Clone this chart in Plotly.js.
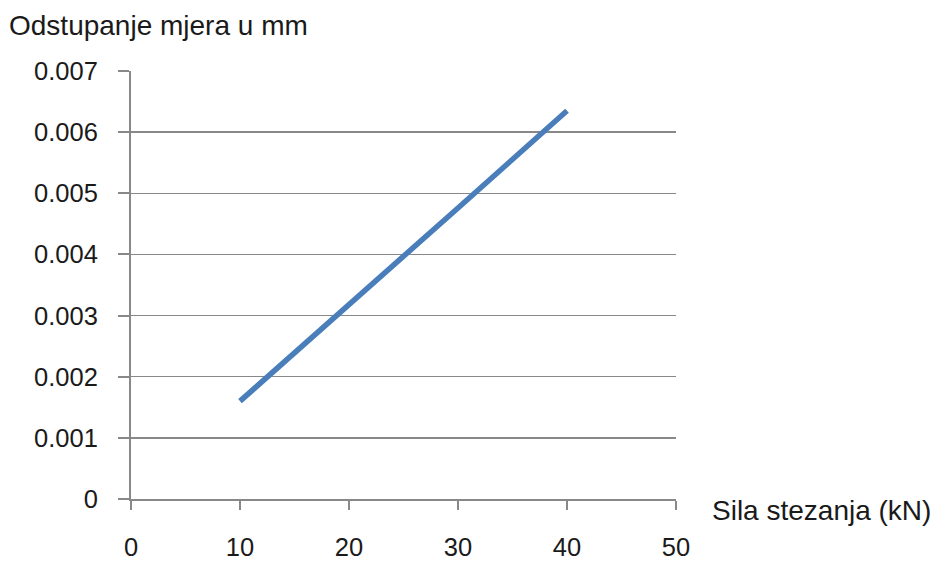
<!DOCTYPE html>
<html>
<head>
<meta charset="utf-8">
<script src="https://cdn.plot.ly/plotly-3.0.1.min.js"></script>
<style>html,body{margin:0;padding:0;background:#fff;}#chart{width:937px;height:563px;}</style>
</head>
<body>
<div id="chart"></div>
<script>
const force = [10, 20, 30, 40];
const deviation = [0.0016, 0.00317, 0.00476, 0.00635];
const xTicks = [0, 10, 20, 30, 40, 50];
const yTicks = [0, 0.001, 0.002, 0.003, 0.004, 0.005, 0.006, 0.007];
const yTickText = ["0", "0.001", "0.002", "0.003", "0.004", "0.005", "0.006", "0.007"];
const yTitle = "Odstupanje mjera u mm";
const xTitle = "Sila stezanja (kN)";

const gridColor = "#888888";
const font = {family: "Liberation Sans, Arial, sans-serif", size: 25.5, color: "#1a1a1a"};
const titleFont = {family: "Liberation Sans, Arial, sans-serif", size: 28, color: "#1a1a1a"};

Plotly.newPlot("chart", [{
  x: force, y: deviation, type: "scatter", mode: "lines",
  line: {color: "#4a7ebb", width: 5.5},
  hoverinfo: "none"
}], {
  width: 937, height: 563,
  margin: {l: 131, r: 261, t: 71, b: 64},
  paper_bgcolor: "#fff", plot_bgcolor: "#fff",
  showlegend: false,
  font: font,
  xaxis: {
    range: [0, 50], tickvals: xTicks, ticktext: xTicks.map(String),
    showgrid: false, zeroline: false,
    showline: true, linecolor: gridColor, linewidth: 2,
    ticks: "outside", ticklen: 9, tickwidth: 2, tickcolor: gridColor,
    ticklabelstandoff: 15,
    tickfont: font
  },
  yaxis: {
    range: [0, 0.007], tickvals: yTicks, ticktext: yTickText,
    showgrid: true, gridcolor: gridColor, gridwidth: 1.5,
    zeroline: false,
    showline: true, linecolor: gridColor, linewidth: 2,
    ticks: "outside", ticklen: 11, tickwidth: 2, tickcolor: gridColor,
    ticklabelstandoff: 15,
    tickfont: font
  },
  annotations: [
    {text: yTitle, xref: "paper", yref: "paper", x: -124/545, y: 1 + 46/428,
     xanchor: "left", yanchor: "middle", showarrow: false, font: titleFont},
    {text: xTitle, xref: "paper", yref: "paper", x: 1 + 34/545, y: -12/428,
     xanchor: "left", yanchor: "middle", showarrow: false, font: titleFont}
  ]
}, {staticPlot: true});
</script>
</body>
</html>
